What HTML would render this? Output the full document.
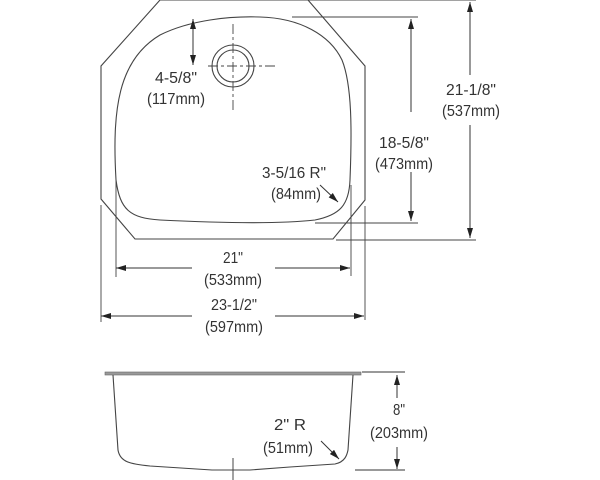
<!DOCTYPE html>
<html><head><meta charset="utf-8"><style>
html,body{margin:0;padding:0;background:#fff;}
svg{display:block}
text{font-family:"Liberation Sans",sans-serif;font-size:16px;fill:#333;text-anchor:middle}
</style></head><body>
<svg width="600" height="480" viewBox="0 0 600 480" xmlns="http://www.w3.org/2000/svg">
<defs>
<marker id="a" viewBox="0 0 10 6" refX="10" refY="3" markerWidth="10" markerHeight="6" orient="auto-start-reverse" markerUnits="userSpaceOnUse"><path d="M0,0 L10,3 L0,6 z" fill="#222"/></marker>
</defs>
<g fill="none" stroke="#444" stroke-width="1.1">
<path d="M160,0 L308,0 L365,66 L365,200 L333,239 L135,239 L101,199 L101,66 Z"/>
<path d="M116,180 C112,110 118,60 160,35 C190,20 230,16 260,17 C300,18 330,35 342,60 C352,85 352,130 350,180 C349,205 340,215 315,220 C270,225 200,222 160,220 C130,218 120,210 116,180 Z"/>
<circle cx="233" cy="66" r="21"/>
<circle cx="233" cy="66" r="16"/>
</g>
<g stroke="#444" stroke-width="0.9" fill="none">
<path d="M233,24 V110 M208,66 H275" stroke-dasharray="10,3,3,3"/>
<path d="M308,0 H476 M292,17 H418 M315,223 H418 M336,240 H476"/>
<path d="M116,180 V277 M101,205 V322 M351,185 V276 M365,206 V320"/>
</g>
<g stroke="#333" stroke-width="1" fill="none">
<path d="M193,19 V65" marker-start="url(#a)" marker-end="url(#a)"/>
<path d="M411,19 V112" marker-start="url(#a)"/><path d="M411,172 V221" marker-end="url(#a)"/>
<path d="M470,2 V75" marker-start="url(#a)"/><path d="M470,125 V238" marker-end="url(#a)"/>
<path d="M116,268 H192" marker-start="url(#a)"/><path d="M275,268 H350" marker-end="url(#a)"/>
<path d="M101,316 H192" marker-start="url(#a)"/><path d="M275,316 H364" marker-end="url(#a)"/>
<path d="M320,185 L338,202" marker-end="url(#a)"/>
<path d="M321,441 L339,459" marker-end="url(#a)"/>
<path d="M397,375 V398" marker-start="url(#a)"/><path d="M397,447 V469" marker-end="url(#a)"/>
<path d="M362,372 H405 M355,470 H405"/>
</g>
<rect x="105" y="372" width="256" height="3" fill="#999" stroke="#666" stroke-width="0.6"/>
<path d="M113,375 L118,450 C120,462 130,464 150,466 L212,470 H250 L290,467 L335,464 C345,462 347,455 348,450 L353,375" fill="none" stroke="#444" stroke-width="1.1"/>
<path d="M233,458 V480" stroke="#444" stroke-width="1"/>
<g lengthAdjust="spacingAndGlyphs">
<text x="176" y="83" textLength="42" lengthAdjust="spacingAndGlyphs">4-5/8"</text><text x="176" y="104" textLength="58" lengthAdjust="spacingAndGlyphs">(117mm)</text>
<text x="294" y="178" textLength="64" lengthAdjust="spacingAndGlyphs">3-5/16 R"</text><text x="296" y="199" textLength="50" lengthAdjust="spacingAndGlyphs">(84mm)</text>
<text x="404" y="148" textLength="50" lengthAdjust="spacingAndGlyphs">18-5/8"</text><text x="404" y="169" textLength="58" lengthAdjust="spacingAndGlyphs">(473mm)</text>
<text x="471" y="95" textLength="50" lengthAdjust="spacingAndGlyphs">21-1/8"</text><text x="471" y="116" textLength="58" lengthAdjust="spacingAndGlyphs">(537mm)</text>
<text x="233" y="263" textLength="20" lengthAdjust="spacingAndGlyphs">21"</text><text x="233" y="285" textLength="58" lengthAdjust="spacingAndGlyphs">(533mm)</text>
<text x="234" y="310" textLength="46" lengthAdjust="spacingAndGlyphs">23-1/2"</text><text x="234" y="332" textLength="58" lengthAdjust="spacingAndGlyphs">(597mm)</text>
<text x="290" y="430" textLength="32" lengthAdjust="spacingAndGlyphs">2" R</text><text x="288" y="453" textLength="50" lengthAdjust="spacingAndGlyphs">(51mm)</text>
<text x="399" y="415" textLength="12" lengthAdjust="spacingAndGlyphs">8"</text><text x="399" y="438" textLength="58" lengthAdjust="spacingAndGlyphs">(203mm)</text>
</g>
</svg>
</body></html>
